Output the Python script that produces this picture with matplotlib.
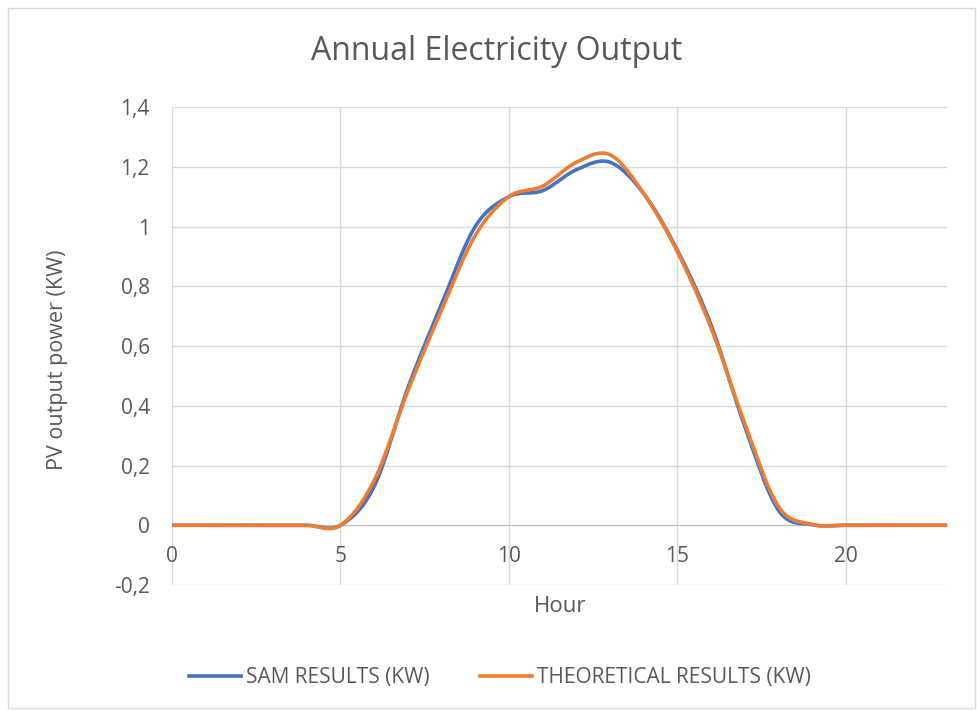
import numpy as np
import matplotlib.pyplot as plt
from matplotlib.lines import Line2D
from matplotlib.patches import Rectangle

plt.rcParams['font.family'] = ['Open Sans', 'DejaVu Sans']

hours = list(range(24))
sam_kw = [0, 0, 0, 0, 0, 0.0, 0.13, 0.46, 0.74, 1.0, 1.10, 1.12, 1.19, 1.215,
          1.11, 0.92, 0.67, 0.33, 0.05, 0.002, 0, 0, 0, 0]
theo_kw = [0, 0, 0, 0, 0, 0.0, 0.15, 0.45, 0.72, 0.97, 1.10, 1.135, 1.215, 1.24,
           1.11, 0.915, 0.66, 0.34, 0.062, 0.003, 0, 0, 0, 0]
series_names = ['SAM RESULTS (KW)', 'THEORETICAL RESULTS (KW)']
series_colors = ['#4472C4', '#ED7D31']


def smooth(x, y, n=30):
    # lissage facon excel (catmull-rom)
    x = np.asarray(x, float)
    y = np.asarray(y, float)
    px = np.concatenate([[x[0]], x, [x[-1]]])
    py = np.concatenate([[y[0]], y, [y[-1]]])
    xs, ys = [], []
    t = np.linspace(0, 1, n)
    for i in range(1, len(px) - 2):
        p0, p1, p2, p3 = [np.array([px[j], py[j]]) for j in range(i - 1, i + 3)]
        c1 = p1 + (p2 - p0) / 6
        c2 = p2 - (p3 - p1) / 6
        b = ((1 - t) ** 3)[:, None] * p1 + (3 * (1 - t) ** 2 * t)[:, None] * c1 \
            + (3 * (1 - t) * t ** 2)[:, None] * c2 + (t ** 3)[:, None] * p2
        xs.append(b[:, 0])
        ys.append(b[:, 1])
    return np.concatenate(xs), np.concatenate(ys)


fig = plt.figure(figsize=(9.77, 7.11), dpi=100)
fig.patches.append(Rectangle((0.008, 0.004), 0.99, 0.985, transform=fig.transFigure,
                             fill=False, edgecolor='#D9D9D9', linewidth=1))
ax = fig.add_axes([172 / 977, 1 - 585 / 711, (947 - 172) / 977, (585 - 107) / 711])

for vals, name, col in zip([sam_kw, theo_kw], series_names, series_colors):
    sx, sy = smooth(hours, vals)
    ax.plot(sx, sy, color=col, linewidth=2.6, solid_capstyle='round', label=name, zorder=3)

ax.set_xlim(0, 23)
ax.set_ylim(-0.2, 1.4)
ax.set_xticks([0, 5, 10, 15, 20])
ax.set_yticks(np.arange(-0.2, 1.41, 0.2))
ax.set_yticklabels(['-0,2', '0', '0,2', '0,4', '0,6', '0,8', '1', '1,2', '1,4'])
ax.grid(True, color='#D9D9D9', linewidth=1)
ax.set_axisbelow(True)
for s in ['top', 'right', 'left']:
    ax.spines[s].set_visible(False)
ax.spines['bottom'].set_position(('data', 0))
ax.spines['bottom'].set_color('#BFBFBF')
ax.tick_params(length=0, labelsize=15, labelcolor='#595959')
ax.tick_params(axis='x', pad=15)
ax.tick_params(axis='y', pad=16)

fig.text(497 / 977, 1 - 52 / 711, 'Annual Electricity Output', ha='center', va='center',
         fontsize=23, color='#595959')
fig.text(560 / 977, 1 - 606 / 711, 'Hour', ha='center', va='center',
         fontsize=16, color='#595959')
fig.text(57 / 977, 1 - 360 / 711, 'PV output power (KW)', ha='center', va='center',
         rotation=90, fontsize=15.5, color='#595959')

handles = [Line2D([], [], color=c, linewidth=2.6) for c in series_colors]
fig.legend(handles, series_names, loc='center', bbox_to_anchor=(500 / 977, 1 - 678 / 711),
           ncol=2, frameon=False, fontsize=15, labelcolor='#595959',
           handlelength=2.5, handletextpad=0.25, columnspacing=2.4)

fig.savefig('out.png', dpi=100)
